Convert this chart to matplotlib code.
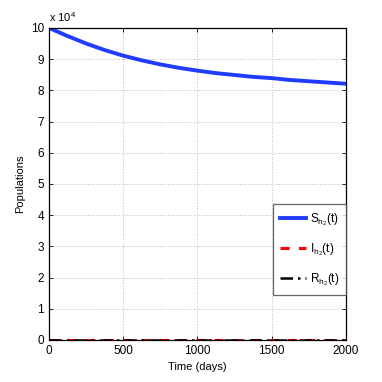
import matplotlib
matplotlib.use("Agg")
import matplotlib.pyplot as plt
import numpy as np

plt.rcParams['font.family'] = ['Liberation Sans', 'DejaVu Sans']
plt.rcParams['mathtext.fontset'] = 'custom'
plt.rcParams['mathtext.rm'] = 'Liberation Sans'

time_days = [0, 125, 250, 375, 500, 625, 750, 875, 1000, 1125, 1250, 1375, 1500, 1625, 1750, 1875, 2000]
S_h2 = [10.0, 9.74, 9.50, 9.29, 9.11, 8.96, 8.83, 8.72, 8.63, 8.55, 8.49, 8.43, 8.39, 8.33, 8.29, 8.25, 8.21]
I_h2 = [0.0] * len(time_days)
R_h2 = [0.0] * len(time_days)
labels = [r'$\mathrm{S}_{\mathrm{h}_2}\mathrm{(t)}$', r'$\mathrm{I}_{\mathrm{h}_2}\mathrm{(t)}$', r'$\mathrm{R}_{\mathrm{h}_2}\mathrm{(t)}$']

fig = plt.figure(figsize=(3.82, 3.82), dpi=100)
ax = fig.add_axes([0.128, 0.110, 0.778, 0.817])
ax.plot(time_days, S_h2, color='#1f3cff', lw=2.8, label=labels[0])
ax.plot(time_days, I_h2, color='#ff0000', lw=2.2, ls=(0, (3, 3)), label=labels[1])
ax.plot(time_days, R_h2, color='black', lw=1.8, ls=(0, (5, 2, 1, 2)), label=labels[2])

ax.set_xlim(0, 2000)
ax.set_ylim(0, 10)
ax.set_xticks([0, 500, 1000, 1500, 2000])
ax.set_yticks(range(0, 11))
ax.tick_params(direction='in', top=True, right=True, labelsize=8.5, length=3, width=0.6)
ax.grid(True, ls=':', color='#bbbbbb', lw=0.7)
for s in ax.spines.values():
    s.set_linewidth(0.9)
ax.set_xlabel('Time (days)', fontsize=8)
ax.set_ylabel('Populations', fontsize=8)
ax.text(0.0, 1.012, r'x 10$^{4}$', transform=ax.transAxes, fontsize=8, ha='left', va='bottom')

leg = ax.legend(loc='center right', bbox_to_anchor=(1.0, 0.29), fontsize=8.5, frameon=True,
                fancybox=False, edgecolor='#444444', handlelength=2.2, labelspacing=1.15,
                borderpad=0.6, handletextpad=0.3, borderaxespad=0)
leg.get_frame().set_linewidth(0.9)

fig.savefig('out.png', dpi=100)
